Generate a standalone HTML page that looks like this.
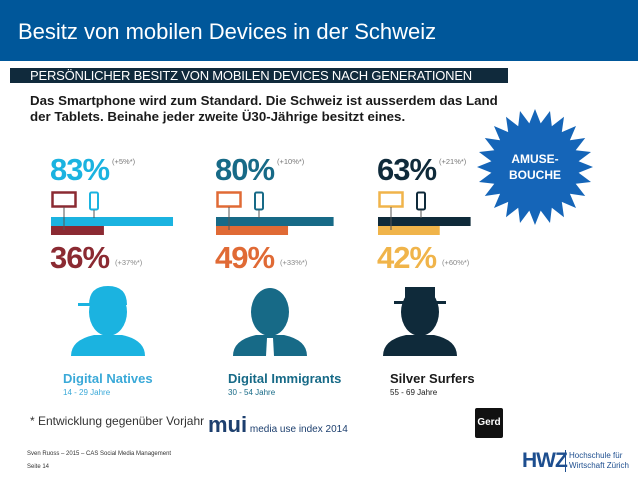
<!DOCTYPE html>
<html><head><meta charset="utf-8">
<style>
body{margin:0;width:638px;height:479px;overflow:hidden;background:#fff;font-family:"Liberation Sans",sans-serif;position:relative}
.abs{position:absolute}
</style></head><body>
<div class="abs" style="left:0;top:0;width:638px;height:61px;background:#00579a"></div>
<div class="abs" style="left:18px;top:19px;color:#fff;font-size:22px;">Besitz von mobilen Devices in der Schweiz</div>
<div class="abs" style="left:10px;top:68px;width:498px;height:15px;background:#102a3c"></div>
<div class="abs" style="left:30px;top:68px;color:#fff;font-size:13px;line-height:15px;letter-spacing:-0.2px">PERSÖNLICHER BESITZ VON MOBILEN DEVICES NACH GENERATIONEN</div>
<div class="abs" style="left:30px;top:93px;color:#1a1a1a;font-size:13.3px;font-weight:bold;line-height:16px">Das Smartphone wird zum Standard. Die Schweiz ist ausserdem das Land<br>der Tablets. Beinahe jeder zweite Ü30-Jährige besitzt eines.</div>
<svg id="chart" class="abs" style="left:0;top:0" width="638" height="479"></svg>
<div class="abs" style="left:30px;top:414px;font-size:12px;color:#333">* Entwicklung gegenüber Vorjahr</div>
<div class="abs" style="left:208px;top:412px;font-size:22px;color:#1d3f6e;font-weight:bold;white-space:nowrap">mui<span style="font-size:10px;font-weight:normal"> media use index 2014</span></div>
<div class="abs" style="left:475px;top:408px;width:28px;height:30px;background:#111;border-radius:2px;color:#fff;font-size:10px;font-weight:bold;text-align:center;line-height:30px">Gerd</div>
<div class="abs" style="left:27px;top:451px;font-size:6px;color:#333">Sven Ruoss – 2015 – CAS Social Media Management</div>
<div class="abs" style="left:27px;top:464px;font-size:6px;color:#333">Seite 14</div>
<div class="abs" style="left:522px;top:449px;font-size:21px;font-weight:bold;color:#1d4e8f;letter-spacing:-1px">HWZ</div>
<div class="abs" style="left:565px;top:450px;width:1px;height:22px;background:#1d4e8f"></div>
<div class="abs" style="left:569px;top:451px;font-size:8px;line-height:10px;color:#1d4e8f">Hochschule für<br>Wirtschaft Zürich</div>
<script>
const groups=["Digital Natives","Digital Immigrants","Silver Surfers"];
const ages=["14 - 29 Jahre","30 - 54 Jahre","55 - 69 Jahre"];
const smartphone=[83,80,63];
const tablet=[36,49,42];
const smartChange=["(+5%*)","(+10%*)","(+21%*)"];
const tabletChange=["(+37%*)","(+33%*)","(+60%*)"];
const topColors=["#1bb3e0","#176a87","#0f2a3a"];
const botColors=["#8b2a32","#e06a35","#f0b44a"];
const lblColors=["#3aa9d8","#176a87","#1a1a1a"];
const svg=document.getElementById('chart');
const NS="http://www.w3.org/2000/svg";
const x0=[51,216,378];
const personX=[108,270,420];
const scale=v=>v*1.47;
function mk(t,a){const e=document.createElementNS(NS,t);for(const k in a)e.setAttribute(k,a[k]);svg.appendChild(e);return e;}
let pts=[];const cx=535,cy=167,N=24;
for(let i=0;i<N*2;i++){const r=i%2?44:58;const an=Math.PI*i/N-Math.PI/2;pts.push((cx+r*Math.cos(an)).toFixed(1)+","+(cy+r*Math.sin(an)).toFixed(1));}
let s=mk('polygon',{points:pts.join(' '),fill:'#1565b8'});


let t1=mk('text',{x:cx,y:cy-4,fill:'#fff','font-size':'12','font-weight':'bold','text-anchor':'middle','font-family':'Liberation Sans'});t1.textContent='AMUSE-';


let t2=mk('text',{x:cx,y:cy+12,fill:'#fff','font-size':'12','font-weight':'bold','text-anchor':'middle','font-family':'Liberation Sans'});t2.textContent='BOUCHE';


groups.forEach((g,i)=>{
  const x=x0[i];
  let p=mk('text',{x:x-1,y:180,fill:topColors[i],'font-size':'31','font-weight':'bold','letter-spacing':'-1','font-family':'Liberation Sans'});p.textContent=smartphone[i]+'%';
  
  
  let c=mk('text',{x:x+61,y:164,fill:'#777','font-size':'7.5','font-family':'Liberation Sans'});c.textContent=smartChange[i];
  
  
  let tb=mk('rect',{x:x+1.5,y:192.5,width:23,height:14,fill:'none',stroke:botColors[i],'stroke-width':2.5});
  
  
  let ph=mk('rect',{x:x+39,y:192.5,width:8,height:17,rx:1.5,fill:'none',stroke:topColors[i],'stroke-width':2});
  
  
  let b1=mk('rect',{x:x,y:217,width:scale(smartphone[i]),height:9,fill:topColors[i]});
  
  
  let b2=mk('rect',{x:x,y:226,width:scale(tablet[i]),height:9,fill:botColors[i]});
  
  
  mk('line',{x1:x+13,y1:207,x2:x+13,y2:230,stroke:'#555','stroke-width':1});
  mk('line',{x1:x+43,y1:210,x2:x+43,y2:218,stroke:'#555','stroke-width':1});
  let q=mk('text',{x:x-1,y:268,fill:botColors[i],'font-size':'31','font-weight':'bold','letter-spacing':'-1','font-family':'Liberation Sans'});q.textContent=tablet[i]+'%';
  
  
  let d=mk('text',{x:x+64,y:265,fill:'#888','font-size':'7.5','font-family':'Liberation Sans'});d.textContent=tabletChange[i];
  
  
  const pc=personX[i];
  const col=topColors[i];
  let head=mk('ellipse',{cx:pc,cy:312,rx:19,ry:24,fill:col});
  
  
  mk('path',{d:`M${pc-37},356 Q${pc-37},340 ${pc-14},335 L${pc+14},335 Q${pc+37},340 ${pc+37},356 Z`,fill:col});
  if(i==0){mk('path',{d:`M${pc-19},305 Q${pc-19},286 ${pc},286 Q${pc+19},286 ${pc+19},305 Z`,fill:col});mk('rect',{x:pc-30,y:303,width:24,height:3,fill:col});}
  if(i==1){mk('path',{d:`M${pc-3},338 L${pc+3},338 L${pc+4},356 L${pc-4},356 Z`,fill:'#fff'});}
  if(i==2){mk('rect',{x:pc-15,y:287,width:30,height:17,fill:col});mk('rect',{x:pc-26,y:301,width:52,height:3,fill:col});}
  let gl=mk('text',{x:x+12,y:383,fill:lblColors[i],'font-size':'13','font-weight':'bold','font-family':'Liberation Sans'});gl.textContent=g;
  
  
  let al=mk('text',{x:x+12,y:395,fill:lblColors[i],'font-size':'8','font-family':'Liberation Sans'});al.textContent=ages[i];
  
  
});
</script>
</body></html>
